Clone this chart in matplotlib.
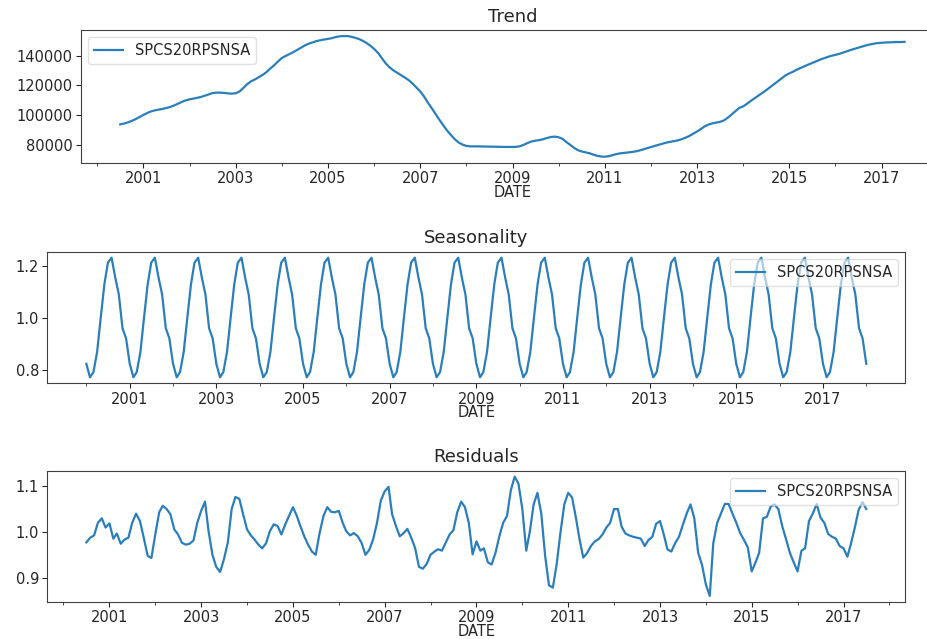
import numpy as np
import pandas as pd
import matplotlib
matplotlib.use("Agg")
import matplotlib.pyplot as plt
import matplotlib.dates as mdates

series_name = "SPCS20RPSNSA"

# trend and residuals: Jul 2000 .. Jul 2017 (monthly)
trend_dates = pd.date_range("2000-07-01", "2017-07-01", freq="MS")
# seasonal factors: Jan 2000 .. Jan 2018 (monthly)
season_dates = pd.date_range("2000-01-01", "2018-01-01", freq="MS")

trend_values = [
    93900, 94500, 95300, 96300, 97500, 98900,
    100300, 101600, 102600, 103300, 103800, 104300, 104900, 105600, 106600, 107800, 109000, 110000,
    110700, 111200, 111700, 112300, 113100, 114000, 114900, 115200, 115200, 115000, 114700, 114500,
    114800, 116000, 118200, 120800, 122700, 124000, 125500, 127000, 128900, 131300, 133500, 136000,
    138400, 139800, 141000, 142300, 143800, 145300, 146800, 148000, 148900, 149700, 150300, 150800,
    151200, 151700, 152400, 152900, 153100, 153100, 152700, 152000, 151200, 150000, 148500, 146700,
    144500, 141800, 138500, 135000, 132300, 130200, 128600, 127000, 125300, 123600, 121300, 118700,
    116000, 112500, 108700, 104900, 101000, 97100, 93400, 89900, 86800, 84000, 81800, 80400,
    79500, 79200, 79200, 79200, 79100, 79100, 79000, 79000, 78900, 78900, 78800, 78800,
    78800, 78900, 79300, 80300, 81500, 82500, 83000, 83400, 84000, 84800, 85500, 85700,
    85300, 84200, 82200, 80300, 78300, 76700, 75800, 75200, 74600, 73700, 72900, 72400,
    72300, 72600, 73300, 74000, 74500, 74800, 75100, 75400, 75800, 76400, 77200, 78000,
    78800, 79500, 80200, 81000, 81700, 82200, 82700, 83200, 84000, 85000, 86200, 87700,
    89200, 90900, 92600, 93800, 94600, 95100, 95600, 96600, 98400, 100600, 102900, 105000,
    106000, 107800, 109600, 111400, 113200, 115000, 116800, 118800, 120800, 122800, 124800, 126700,
    128100, 129300, 130600, 131800, 132900, 134000, 135100, 136200, 137300, 138200, 139100, 139900,
    140500, 141200, 142000, 142900, 143800, 144600, 145400, 146200, 146900, 147500, 148000, 148400,
    148600, 148800, 148900, 149000, 149100, 149100, 149200,
]

# monthly seasonal factors, Jan .. Dec
season_factors = [0.823, 0.771, 0.791, 0.869, 0.999, 1.129,
                  1.213, 1.232, 1.155, 1.090, 0.960, 0.921]
season_values = np.resize(season_factors, len(season_dates))

resid_values = [
    0.978, 0.988, 0.993, 1.020, 1.030, 1.010, 1.019, 0.986, 0.997, 0.975, 0.984, 0.988,
    1.020, 1.040, 1.024, 0.988, 0.949, 0.944, 0.995, 1.043, 1.057, 1.050, 1.039, 1.006,
    0.995, 0.977, 0.973, 0.975, 0.982, 1.020, 1.046, 1.066, 1.002, 0.951, 0.925, 0.914,
    0.941, 0.977, 1.050, 1.076, 1.072, 1.039, 1.006, 0.993, 0.984, 0.973, 0.965, 0.976,
    1.002, 1.017, 1.013, 0.995, 1.017, 1.035, 1.054, 1.035, 1.013, 0.991, 0.973, 0.958,
    0.951, 0.998, 1.035, 1.054, 1.044, 1.043, 1.046, 1.020, 1.002, 0.993, 0.998, 0.991,
    0.977, 0.951, 0.962, 0.984, 1.020, 1.068, 1.088, 1.098, 1.039, 1.013, 0.991, 0.998,
    1.007, 0.988, 0.965, 0.925, 0.921, 0.931, 0.951, 0.958, 0.963, 0.960, 0.977, 0.995,
    1.004, 1.043, 1.066, 1.054, 1.020, 0.952, 0.980, 0.960, 0.965, 0.935, 0.930, 0.955,
    0.990, 1.020, 1.035, 1.090, 1.120, 1.105, 1.050, 0.960, 1.000, 1.060, 1.085, 1.040,
    0.950, 0.885, 0.880, 0.930, 1.000, 1.060, 1.085, 1.075, 1.035, 0.985, 0.945, 0.955,
    0.970, 0.980, 0.985, 0.995, 1.010, 1.020, 1.050, 1.050, 1.012, 0.997, 0.993, 0.990,
    0.988, 0.986, 0.970, 0.983, 0.990, 1.018, 1.024, 0.994, 0.963, 0.958, 0.976, 0.990,
    1.015, 1.040, 1.060, 1.030, 0.955, 0.930, 0.887, 0.862, 0.976, 1.020, 1.040, 1.061,
    1.061, 1.040, 1.020, 0.998, 0.983, 0.967, 0.915, 0.935, 0.955, 1.030, 1.033, 1.055,
    1.060, 1.050, 1.013, 0.985, 0.955, 0.935, 0.915, 0.960, 0.965, 1.024, 1.040, 1.061,
    1.032, 1.020, 0.996, 0.990, 0.986, 0.970, 0.965, 0.947, 0.975, 1.010, 1.048, 1.065, 1.050,
]

plt.rcParams.update({
    "font.family": "DejaVu Sans",
    "font.size": 10.5,
    "text.color": "#262626",
    "axes.labelcolor": "#262626",
    "xtick.color": "#262626",
    "ytick.color": "#262626",
    "axes.edgecolor": "#404040",
    "xtick.major.pad": 2.5,
    "ytick.major.pad": 2.5,
})

fig = plt.figure(figsize=(9.28, 6.39), dpi=100)

# the top panel runs past the right edge of the page
ax_trend = fig.add_axes([0.0873, 0.7454, 0.9297, 0.2076])
ax_season = fig.add_axes([0.0510, 0.4002, 0.9245, 0.2059])
ax_resid = fig.add_axes([0.0510, 0.0580, 0.9245, 0.2054])

major_years = [pd.Timestamp(f"{y}-01-01") for y in range(2001, 2018, 2)]
minor_years = [pd.Timestamp(f"{y}-01-01") for y in range(2000, 2019, 2)]


def draw_panel(ax, dates, values, title, legend_loc):
    ax.plot(dates, values, color="#2a7fba", lw=1.6, label=series_name)
    ax.set_title(title, fontsize=13)
    ax.set_xlabel("DATE", labelpad=-1)
    ax.set_xticks(major_years)
    ax.set_xticks(minor_years, minor=True)
    ax.xaxis.set_major_formatter(mdates.DateFormatter("%Y"))
    ax.tick_params(axis="x", which="minor", length=2)
    ax.legend(loc=legend_loc, framealpha=0.6, fontsize=10.5)


draw_panel(ax_trend, trend_dates, trend_values, "Trend", "upper left")
draw_panel(ax_season, season_dates, season_values, "Seasonality", "upper right")
draw_panel(ax_resid, trend_dates, resid_values, "Residuals", "upper right")

ax_trend.set_yticks([80000, 100000, 120000, 140000])
ax_season.set_yticks([0.8, 1.0, 1.2])
ax_resid.set_yticks([0.9, 1.0, 1.1])

fig.savefig("out.png", dpi=100)
